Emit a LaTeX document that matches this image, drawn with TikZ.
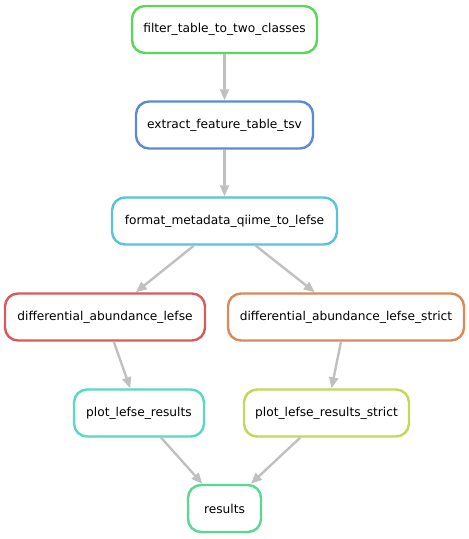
\documentclass[tikz,border=0pt]{standalone}
\usepackage{fontspec}
\setmainfont{DejaVu Sans}
\usetikzlibrary{arrows.meta}
\definecolor{cA}{HTML}{57D957}
\definecolor{cB}{HTML}{5A8BD9}
\definecolor{cC}{HTML}{59C3D9}
\definecolor{cD}{HTML}{D95A5A}
\definecolor{cE}{HTML}{D98A57}
\definecolor{cF}{HTML}{57D9C5}
\definecolor{cG}{HTML}{C2D957}
\definecolor{cH}{HTML}{57D98F}
\definecolor{edgegrey}{HTML}{C0C0C0}
\tikzset{
  rule/.style={draw=#1, line width=2.4pt, rounded corners=13pt, fill=white,
    minimum height=47pt, inner xsep=8pt, font=\fontsize{12.2}{14}\selectfont},
  dep/.style={draw=edgegrey, line width=2.4pt,
    -{Triangle[length=11pt,width=9pt]}},
}
\begin{document}
\begin{tikzpicture}[x=1pt,y=1pt]
\useasboundingbox (0,0) rectangle (469,-539);
\node[rule=cA, minimum width=185pt] (filter) at (224.5,-29.5) {filter\_table\_to\_two\_classes};
\node[rule=cB, minimum width=177pt] (extract) at (224.5,-125) {extract\_feature\_table\_tsv};
\node[rule=cC, minimum width=225pt] (format) at (224.5,-221) {format\_metadata\_qiime\_to\_lefse};
\node[rule=cD, minimum width=200pt] (diff) at (105,-317) {differential\_abundance\_lefse};
\node[rule=cE, minimum width=236pt] (diffs) at (346,-317) {differential\_abundance\_lefse\_strict};
\node[rule=cF, minimum width=130pt] (plot) at (139,-413) {plot\_lefse\_results};
\node[rule=cG, minimum width=165pt] (plots) at (326.5,-413) {plot\_lefse\_results\_strict};
\node[rule=cH, minimum width=73pt] (results) at (224.5,-508.5) {results};
\draw[dep] (filter) -- (extract);
\draw[dep] (extract) -- (format);
\draw[dep] (format) -- (diff);
\draw[dep] (format) -- (diffs);
\draw[dep] (diff) -- (plot);
\draw[dep] (diffs) -- (plots);
\draw[dep] (plot) -- (results);
\draw[dep] (plots) -- (results);
\end{tikzpicture}
\end{document}
